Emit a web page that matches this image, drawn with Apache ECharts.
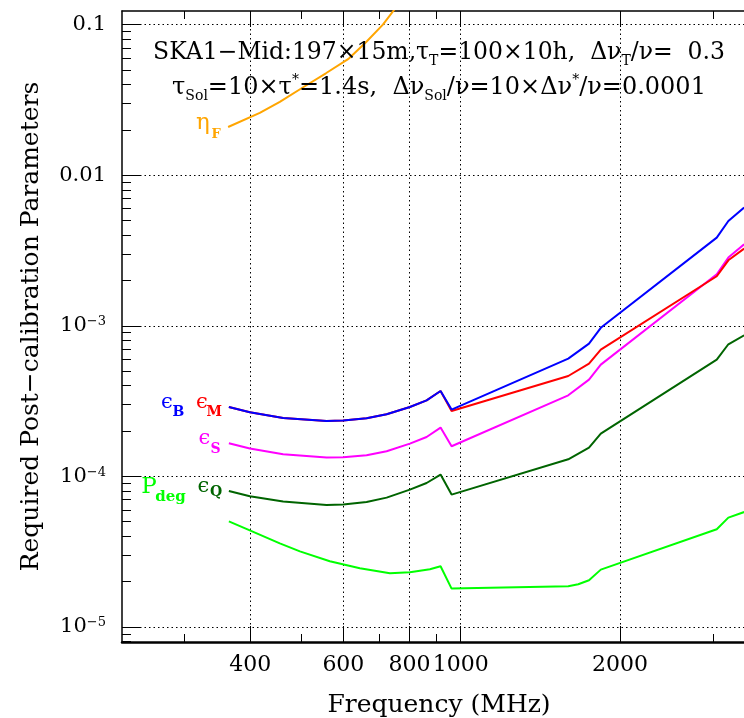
<!DOCTYPE html>
<html><head><meta charset="utf-8">
<script src="https://cdn.jsdelivr.net/npm/echarts@6/dist/echarts.min.js"></script>
<style>html,body{margin:0;padding:0;background:#fff}#c{width:744px;height:718px}</style>
</head><body><div id="c"></div>
<script>
// ---- data (frequency in MHz) ----
const freqMain = [364.5, 399.3, 461.6, 557.6, 599.5, 663.8, 724.3, 801.5, 862, 916, 961, 1597, 1748, 1840, 3048, 3206, 3434];
const epsB = [2.889e-4, 2.664e-4, 2.442e-4, 2.333e-4, 2.347e-4, 2.431e-4, 2.584e-4, 2.889e-4, 3.2e-4, 3.691e-4, 2.777e-4, 6.055e-4, 7.62e-4, 9.7e-4, 3.852e-3, 4.964e-3, 6.093e-3];
const epsM = [2.889e-4, 2.664e-4, 2.442e-4, 2.333e-4, 2.347e-4, 2.431e-4, 2.584e-4, 2.889e-4, 3.2e-4, 3.691e-4, 2.717e-4, 4.642e-4, 5.61e-4, 6.95e-4, 2.132e-3, 2.722e-3, 3.255e-3];
const epsS = [1.659e-4, 1.53e-4, 1.402e-4, 1.333e-4, 1.339e-4, 1.381e-4, 1.468e-4, 1.651e-4, 1.827e-4, 2.109e-4, 1.585e-4, 3.455e-4, 4.393e-4, 5.526e-4, 2.198e-3, 2.837e-3, 3.476e-3];
const epsQ = [8.0e-5, 7.376e-5, 6.803e-5, 6.458e-5, 6.497e-5, 6.761e-5, 7.23e-5, 8.17e-5, 9.04e-5, 1.028e-4, 7.57e-5, 1.299e-4, 1.553e-4, 1.924e-4, 5.966e-4, 7.54e-4, 8.65e-4];
const freqPdeg = [364.5, 399.3, 455, 496.6, 565.6, 644.6, 734.7, 801.5, 874.5, 916, 961, 1597, 1668, 1748, 1840, 3048, 3206, 3434];
const pDeg = [5.03e-5, 4.386e-5, 3.595e-5, 3.18e-5, 2.731e-5, 2.454e-5, 2.273e-5, 2.308e-5, 2.416e-5, 2.529e-5, 1.799e-5, 1.864e-5, 1.921e-5, 2.042e-5, 2.404e-5, 4.453e-5, 5.325e-5, 5.8e-5];
const freqEta = [363.3, 417, 455, 504.6, 556, 614.5, 662, 712.6, 747.6, 775];
const etaF = [0.0209, 0.0259, 0.0307, 0.0385, 0.0475, 0.0595, 0.0763, 0.100, 0.1245, 0.150];

// ---- axes / ticks ----
const xMin = 228.9, xMax = 3616, yMin = 7.95e-6, yMax = 0.1231;
const xMajorTicks = [400, 600, 800, 1000, 2000];
const xMinorTicks = [300, 500, 700, 900, 3000];
const yMajorTicks = [1e-5, 1e-4, 1e-3, 1e-2, 1e-1];
const yMinorTicks = [];
for (let e = -6; e <= -2; e++) for (let m = 2; m <= 9; m++) {
  const v = m * Math.pow(10, e); if (v > yMin && v < yMax) yMinorTicks.push(v);
}
const yLabelText = {1e-1: '0.1', 1e-2: '0.01', 1e-3: '10{sup|−3}', 1e-4: '10{sup|−4}', 1e-5: '10{sup|−5}'};

const FONT = 'DejaVu Serif';
const pair = (xs, ys) => xs.map((x, i) => [x, ys[i]]);
const dotted = {color: '#000', width: 1, type: [1.5, 3]};
const solid = {color: '#000', width: 1, type: 'solid'};
const ghostLabel = ticks => ({show: true, customValues: ticks, formatter: () => ' ', color: 'rgba(0,0,0,0)', fontSize: 8, margin: 2});

// tick strips: thin grids whose split lines act as the inward ticks
const G = {left: 122, right: -12, top: 11, bottom: 76};
const grids = [
  {left: G.left, right: G.right, top: G.top, bottom: G.bottom},            // 0 main
  {left: G.left, right: G.right, bottom: G.bottom, height: 16},             // 1 bottom major
  {left: G.left, right: G.right, bottom: G.bottom, height: 8},              // 2 bottom minor
  {left: G.left, right: G.right, top: G.top, height: 16},                   // 3 top major
  {left: G.left, right: G.right, top: G.top, height: 8},                    // 4 top minor
  {left: G.left, width: 18, top: G.top, bottom: G.bottom},                  // 5 left major
  {left: G.left, width: 9, top: G.top, bottom: G.bottom}                    // 6 left minor
].map(g => Object.assign({outerBoundsMode: 'none', containLabel: false}, g));
function dummy(gi) {
  return {type: 'value', gridIndex: gi, min: 0, max: 1, show: false};
}
function xStrip(gi, ticks, pos, line) {
  return {type: 'log', logBase: 10, gridIndex: gi, min: xMin, max: xMax, position: pos,
    axisLine: line ? {show: true, onZero: false, lineStyle: {color: '#000', width: 1.5}} : {show: false},
    axisTick: {show: false, customValues: ticks},
    axisLabel: ghostLabel(ticks),
    splitLine: {show: true, lineStyle: solid}, minorTick: {show: false}, minorSplitLine: {show: false}};
}
function yStrip(gi, ticks) {
  return {type: 'log', logBase: 10, gridIndex: gi, min: yMin, max: yMax, position: 'left',
    axisLine: {show: false}, axisTick: {show: false, customValues: ticks},
    axisLabel: ghostLabel(ticks),
    splitLine: {show: true, lineStyle: solid}, minorTick: {show: false}, minorSplitLine: {show: false}};
}

const option = {
  animation: false,
  backgroundColor: '#fff',
  grid: grids,
  xAxis: [
    {type: 'log', logBase: 10, gridIndex: 0, min: xMin, max: xMax, position: 'bottom',
      axisLine: {show: true, onZero: false, lineStyle: {color: '#000', width: 2.5}},
      axisTick: {show: false, customValues: xMajorTicks},
      axisLabel: {show: true, customValues: xMajorTicks, formatter: v => String(Math.round(v)),
        fontFamily: FONT, fontSize: 22, color: '#000', margin: 12},
      splitLine: {show: true, lineStyle: dotted}, minorTick: {show: false},
      name: 'Frequency (MHz)', nameLocation: 'middle', nameGap: 51,
      nameTextStyle: {fontFamily: FONT, fontSize: 25, color: '#000'}},
    xStrip(1, xMajorTicks, 'bottom', false),
    xStrip(2, xMinorTicks, 'bottom', false),
    xStrip(3, xMajorTicks, 'top', true),
    xStrip(4, xMinorTicks, 'top', false),
    dummy(5), dummy(6)
  ],
  yAxis: [
    {type: 'log', logBase: 10, gridIndex: 0, min: yMin, max: yMax, position: 'left',
      axisLine: {show: true, onZero: false, lineStyle: {color: '#000', width: 1.5}},
      axisTick: {show: false, customValues: yMajorTicks},
      axisLabel: {show: true, customValues: yMajorTicks, margin: 16,
        formatter: v => { for (const k of yMajorTicks) if (Math.abs(v / k - 1) < 1e-6) return yLabelText[k]; return ''; },
        fontFamily: FONT, fontSize: 21, color: '#000',
        rich: {sup: {fontFamily: FONT, fontSize: 13, color: '#000', verticalAlign: 'top', lineHeight: 13}}},
      splitLine: {show: true, lineStyle: dotted}, minorTick: {show: false},
      name: 'Required Post−calibration Parameters', nameLocation: 'middle', nameGap: 78, nameRotate: 90,
      nameTextStyle: {fontFamily: FONT, fontSize: 25, color: '#000'}},
    dummy(1), dummy(2), dummy(3), dummy(4),
    yStrip(5, yMajorTicks),
    yStrip(6, yMinorTicks)
  ],
  series: [
    {name: 'Pdeg', type: 'line', data: pair(freqPdeg, pDeg), color: '#00ff00'},
    {name: 'epsQ', type: 'line', data: pair(freqMain, epsQ), color: '#006400'},
    {name: 'epsS', type: 'line', data: pair(freqMain, epsS), color: '#ff00ff'},
    {name: 'epsM', type: 'line', data: pair(freqMain, epsM), color: '#ff0000'},
    {name: 'epsB', type: 'line', data: pair(freqMain, epsB), color: '#0000ff'},
    {name: 'etaF', type: 'line', data: pair(freqEta, etaF), color: '#ffa500'}
  ].map(s => Object.assign({xAxisIndex: 0, yAxisIndex: 0, symbol: 'none', clip: true, z: 10,
      lineStyle: {width: 2, color: s.color}}, s)),
  graphic: []
};

function txt(x, y, text, size, color, bold) {
  return {type: 'text', x: x, y: y, silent: true, z: 100,
    style: {text: text, fontFamily: FONT, fontSize: size, fontWeight: bold ? 'bold' : 'normal',
      fill: color, align: 'center', verticalAlign: 'middle'}};
}
function richTitle(sz) {
  return {
    sub: {fontFamily: FONT, fontSize: sz, fill: '#000', verticalAlign: 'bottom', lineHeight: sz},
    sup: {fontFamily: FONT, fontSize: sz, fill: '#000', verticalAlign: 'top', lineHeight: sz}
  };
}
function titleLine(y, text, size) {
  return {type: 'text', x: 439, y: y, silent: true, z: 100,
    style: {text: text, rich: richTitle(14), fontFamily: FONT, fontSize: size, fill: '#000', lineHeight: 30,
      align: 'center', verticalAlign: 'middle'}};
}
option.graphic = [
  titleLine(53, 'SKA1−Mid:197×15m,τ{sub|T}=100×10h,  Δν{sub|T}/ν=  0.3', 23.5),
  titleLine(88, 'τ{sub|Sol}=10×τ{sup|*}=1.4s,  Δν{sub|Sol}/ν=10×Δν{sup|*}/ν=0.0001', 24),
  txt(203, 123, 'η', 23, '#ffa500'), txt(216, 134.5, 'F', 13, '#ffa500', true),
  txt(167, 403, 'ϵ', 21, '#0000ff'), txt(178.5, 412, 'B', 14, '#0000ff', true),
  txt(202, 403, 'ϵ', 21, '#ff0000'), txt(214.3, 412, 'M', 14, '#ff0000', true),
  txt(204.5, 439, 'ϵ', 21, '#ff00ff'), txt(215.5, 449.5, 'S', 14, '#ff00ff', true),
  txt(149, 487, 'P', 23, '#00ff00'), txt(170.5, 497, 'deg', 15, '#00ff00', true),
  txt(203.5, 486.7, 'ϵ', 21, '#006400'), txt(216, 492, 'Q', 14, '#006400', true)
];

const chart = echarts.init(document.getElementById('c'), null, {renderer: 'canvas'});
chart.setOption(option);
</script></body></html>
